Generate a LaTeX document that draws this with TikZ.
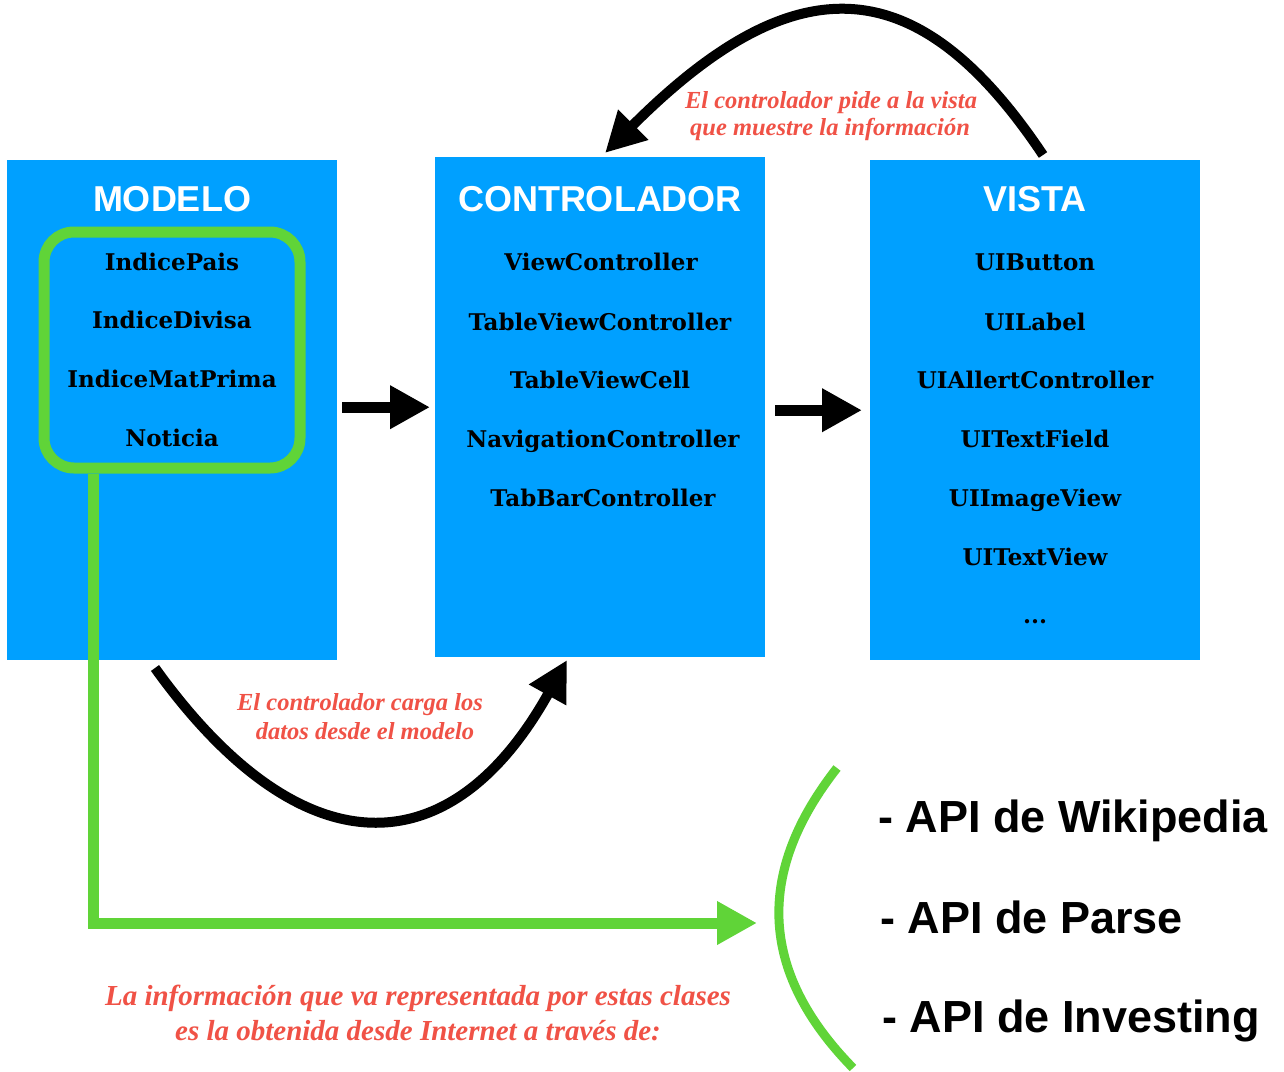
\documentclass[tikz,border=0pt]{standalone}
\usepackage{fontspec}
\setmainfont{DejaVu Serif}
\newfontfamily\hdfont{Liberation Sans}
\newfontfamily\itfont{Liberation Serif}
\usetikzlibrary{arrows.meta}
\definecolor{boxblue}{RGB}{0,160,255}
\definecolor{lgreen}{RGB}{96,212,56}
\definecolor{annred}{RGB}{240,82,70}
\begin{document}
\begin{tikzpicture}[x=1pt,y=-1pt,
  panel/.style={fill=boxblue, draw=none, inner sep=0pt, minimum width=330pt, minimum height=500pt, anchor=north west},
  head/.style={font=\hdfont\bfseries\fontsize{36}{40}\selectfont, text=white, anchor=base, inner sep=0pt},
  item/.style={font=\bfseries\fontsize{23}{28}\selectfont, anchor=base, inner sep=0pt},
  note/.style={font=\itfont\bfseries\itshape\fontsize{24.5}{28}\selectfont, text=annred, anchor=base, inner sep=0pt},
  bignote/.style={font=\itfont\bfseries\itshape\fontsize{29}{33}\selectfont, text=annred, anchor=base, inner sep=0pt},
  api/.style={font=\hdfont\bfseries\fontsize{45}{50}\selectfont, anchor=base west, inner sep=0pt},
  bigarrow/.style={line width=11pt, -{Triangle[length=40pt,width=41pt]}},
  curvearrow/.style={line width=10pt, -{Triangle[length=40pt,width=40pt]}},
  greenline/.style={draw=lgreen, line width=11pt, line join=miter},
]
\useasboundingbox[fill=white] (0,0) rectangle (1284,1071);

% panels
\node[panel] (modelo) at (7,160) {};
\node[panel] (ctrl) at (435,157) {};
\node[panel] (vista) at (870,160) {};

% headers
\node[head] (hm) at (172,211) {MODELO};
\node[head] (hc) at (600,211) {CONTROLADOR};
\node[head] (hv) at (1035,211) {VISTA};

% model items
\node[item] (m1) at (172,270) {IndicePais};
\node[item] (m2) at (172,328) {IndiceDivisa};
\node[item] (m3) at (172,387) {IndiceMatPrima};
\node[item] (m4) at (172,446) {Noticia};

% controller items
\node[item] (c1) at (601,270) {ViewController};
\node[item] (c2) at (600,330) {TableViewController};
\node[item] (c3) at (600,388) {TableViewCell};
\node[item] (c4) at (603,447) {NavigationController};
\node[item] (c5) at (603,506) {TabBarController};

% vista items
\node[item] (v1) at (1035,270) {UIButton};
\node[item] (v2) at (1035,330) {UILabel};
\node[item] (v3) at (1035,388) {UIAllertController};
\node[item] (v4) at (1035,447) {UITextField};
\node[item] (v5) at (1035,506) {UIImageView};
\node[item] (v6) at (1035,565) {UITextView};
\node[item] (v7) at (1035,623) {...};

% green group box
\node[greenline, rounded corners=30pt, minimum width=256pt, minimum height=236pt, inner sep=0pt] (grp) at (172,350) {};

% straight arrows
\draw[bigarrow] ([xshift=5pt]modelo.east |- ctrl.west) -- ([xshift=-5pt]ctrl.west);
\draw[bigarrow] ([xshift=10pt]ctrl.east |- vista.west) -- ([xshift=-8pt]vista.west);

% curved arrows
\coordinate (bs) at (155,668);
\coordinate (be) at (567,660);
\draw[curvearrow] (bs) .. controls (300,870) and (450,870) .. (be);
\coordinate (ts) at (1043,155);
\coordinate (te) at (605,153);
\draw[curvearrow] (ts) .. controls (916,-35) and (793,-35) .. (te);

% notes
\node[note] (n1) at (831,108) {El controlador pide a la vista};
\node[note] (n2) at (830,135) {que muestre la información};
\node[note] (n3) at (360,710) {El controlador carga los};
\node[note] (n4) at (365,739) {datos desde el modelo};
\node[bignote] (n5) at (418,1005) {La información que va representada por estas clases};
\node[bignote] (n6) at (418,1040) {es la obtenida desde Internet a través de:};

% green line from group to APIs
\coordinate (gline) at (93,0);
\coordinate (gtip) at (757,923);
\draw[greenline, -{Triangle[length=40pt,width=41pt]}] (grp.south -| gline) |- (gtip);

% bracket arc
\coordinate (arcA) at (837,768);
\coordinate (arcB) at (853,1068);
\draw[draw=lgreen, line width=9pt] (arcA) .. controls (757,870) and (757,970) .. (arcB);

% APIs
\node[api] (a1) at (878,832) {- API de Wikipedia};
\node[api] (a2) at (880,933) {- API de Parse};
\node[api] (a3) at (882,1032) {- API de Investing};
\end{tikzpicture}
\end{document}
